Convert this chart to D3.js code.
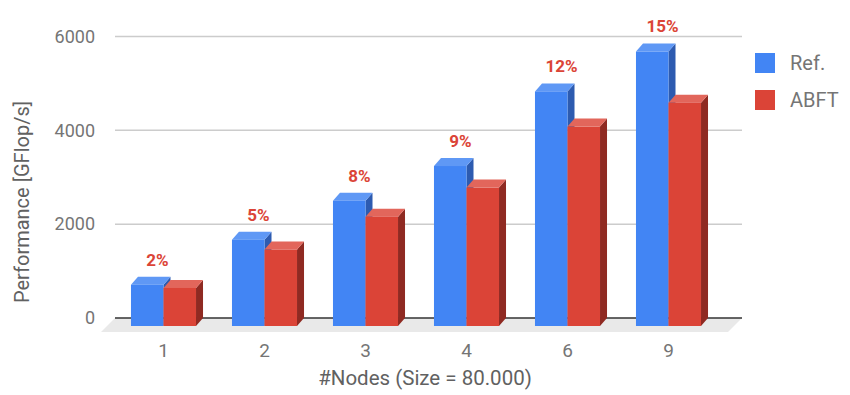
<!DOCTYPE html>
<html>
<head>
<meta charset="utf-8">
<script src="https://cdn.jsdelivr.net/npm/d3@7"></script>
<style>
  body { margin: 0; background: #fff; }
  text { font-family: Roboto, "Noto Sans", sans-serif; }
</style>
</head>
<body>
<script>
// data
var nodes = ["1", "2", "3", "4", "6", "9"];
var series = ["Ref.", "ABFT"];
var refPerf = [880, 1840, 2670, 3410, 5000, 5850];
var abftPerf = [810, 1630, 2330, 2950, 4250, 4760];
var overhead = ["2%", "5%", "8%", "9%", "12%", "15%"];
var yTicks = [0, 2000, 4000, 6000];

var w = 850, h = 395;
var dx = 7, dy = 8;  // depth of the 3d bars
var colors = {
  "Ref.": { front: "#4285f4", top: "#5f98f5", side: "#2d5bb0" },
  "ABFT": { front: "#db4437", top: "#e2665b", side: "#8f2a22" }
};

var svg = d3.select("body").append("svg")
  .attr("width", w)
  .attr("height", h);

// front plane scales
var x = d3.scaleBand().domain(nodes).range([113, 719]).paddingInner(0.356).paddingOuter(0.178);
var xs = d3.scaleBand().domain(series).range([0, x.bandwidth()]);
var y = d3.scaleLinear().domain([0, 6000]).range([326, 44.5]);

// floor
var fl = 115, fr = 742, fy = y(0) - dy;
svg.append("polygon")
  .attr("points", [[fl, fy], [fr, fy], [fr - 14, fy + 14], [fl - 14, fy + 14]].join(" "))
  .attr("fill", "#e9e9e9");

// gridlines (back plane)
svg.selectAll(".grid")
  .data(yTicks.filter(function(d) { return d > 0; }))
  .enter().append("line")
  .attr("x1", fl).attr("x2", fr)
  .attr("y1", function(d) { return y(d) - dy; })
  .attr("y2", function(d) { return y(d) - dy; })
  .attr("stroke", "#cccccc")
  .attr("stroke-width", 1.5);

svg.append("line")
  .attr("x1", fl).attr("x2", fr)
  .attr("y1", fy).attr("y2", fy)
  .attr("stroke", "#333")
  .attr("stroke-width", 1.5);

// y tick labels
svg.selectAll(".ytick")
  .data(yTicks)
  .enter().append("text")
  .attr("x", 95)
  .attr("y", function(d) { return y(d) - dy; })
  .attr("dy", "0.35em")
  .attr("text-anchor", "end")
  .attr("font-size", 18)
  .attr("fill", "#757575")
  .text(function(d) { return d; });

// bars
var rows = [];
nodes.forEach(function(n, i) {
  rows.push({ node: n, s: "Ref.", v: refPerf[i] });
  rows.push({ node: n, s: "ABFT", v: abftPerf[i] });
});

var bars = svg.selectAll(".bar")
  .data(rows)
  .enter().append("g");

bars.each(function(d) {
  var g = d3.select(this);
  var x0 = x(d.node) + xs(d.s), bw = xs.bandwidth();
  var yt = y(d.v), yb = y(0);
  var c = colors[d.s];
  g.append("polygon")
    .attr("points", [[x0 + bw, yt], [x0 + bw + dx, yt - dy], [x0 + bw + dx, yb - dy], [x0 + bw, yb]].join(" "))
    .attr("fill", c.side);
  g.append("polygon")
    .attr("points", [[x0, yt], [x0 + dx, yt - dy], [x0 + bw + dx, yt - dy], [x0 + bw, yt]].join(" "))
    .attr("fill", c.top);
  g.append("rect")
    .attr("x", x0).attr("y", yt)
    .attr("width", bw).attr("height", yb - yt)
    .attr("fill", c.front);
});

// overhead labels
svg.selectAll(".pct")
  .data(overhead)
  .enter().append("text")
  .attr("x", function(d, i) { return x(nodes[i]) + x.bandwidth() / 2 - 6; })
  .attr("y", function(d, i) { return y(refPerf[i]) - dy - 17; })
  .attr("dy", "0.35em")
  .attr("text-anchor", "middle")
  .attr("font-size", 17)
  .attr("font-weight", "bold")
  .attr("fill", "#db4437")
  .text(function(d) { return d; });

// x tick labels
svg.selectAll(".xtick")
  .data(nodes)
  .enter().append("text")
  .attr("x", function(d) { return x(d) + x.bandwidth() / 2; })
  .attr("y", 350)
  .attr("dy", "0.35em")
  .attr("text-anchor", "middle")
  .attr("font-size", 19)
  .attr("fill", "#757575")
  .text(function(d) { return d; });

// axis titles
svg.append("text")
  .attr("x", 425).attr("y", 378)
  .attr("dy", "0.35em")
  .attr("text-anchor", "middle")
  .attr("font-size", 20.5)
  .attr("fill", "#616161")
  .text("#Nodes (Size = 80.000)");

svg.append("text")
  .attr("transform", "translate(22,202) rotate(-90)")
  .attr("dy", "0.35em")
  .attr("text-anchor", "middle")
  .attr("font-size", 20)
  .attr("fill", "#616161")
  .text("Performance [GFlop/s]");

// legend
var legend = svg.selectAll(".legend")
  .data(series)
  .enter().append("g")
  .attr("transform", function(d, i) { return "translate(755," + (53 + i * 37) + ")"; });
legend.append("rect")
  .attr("width", 20).attr("height", 20)
  .attr("fill", function(d) { return colors[d].front; });
legend.append("text")
  .attr("x", 35).attr("y", 10)
  .attr("dy", "0.35em")
  .attr("font-size", 20)
  .attr("fill", "#757575")
  .text(function(d) { return d; });
</script>
</body>
</html>
